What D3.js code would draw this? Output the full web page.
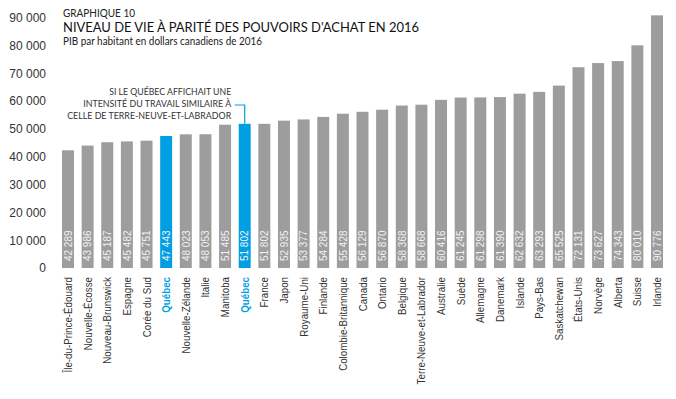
<!DOCTYPE html>
<html>
<head>
<meta charset="utf-8">
<script src="https://cdn.jsdelivr.net/npm/d3@7"></script>
<style>
body { margin: 0; background: #fff; }
</style>
</head>
<body>
<script>
var categories = ["Île-du-Prince-Édouard", "Nouvelle-Écosse", "Nouveau-Brunswick", "Espagne", "Corée du Sud",
    "Québec", "Nouvelle-Zélande", "Italie", "Manitoba", "Québec", "France", "Japon", "Royaume-Uni", "Finlande",
    "Colombie-Britannique", "Canada", "Ontario", "Belgique", "Terre-Neuve-et-Labrador", "Australie", "Suède",
    "Allemagne", "Danemark", "Islande", "Pays-Bas", "Saskatchewan", "États-Unis", "Norvège", "Alberta", "Suisse", "Irlande"];
var values = [42289, 43986, 45187, 45482, 45751, 47443, 48023, 48053, 51485, 51802, 51802, 52935, 53377, 54284,
    55428, 56129, 56870, 58368, 58668, 60416, 61245, 61298, 61390, 62632, 63293, 65525, 72131, 73627, 74343, 80010, 90776];
var highlighted = [5, 9];
var yTicks = [0, 10000, 20000, 30000, 40000, 50000, 60000, 70000, 80000, 90000];
var annotationLines = ["SI LE QUÉBEC AFFICHAIT UNE", "INTENSITÉ DU TRAVAIL SIMILAIRE À", "CELLE DE TERRE-NEUVE-ET-LABRADOR"];

var w = 676;
var h = 399;
var grey = "#9d9d9d";
var blue = "#009fe3";

var svg = d3.select("body")
    .append("svg")
    .attr("width", w)
    .attr("height", h);

var x = d3.scaleBand()
    .domain(d3.range(categories.length))
    .range([62, 663])
    .paddingInner(0.39)
    .paddingOuter(0);

var y = d3.scaleLinear()
    .domain([0, 90000])
    .range([268, 17.5]);

var fmt = function(v) { return d3.format(",")(v).replace(/,/g, " "); };

// y axis, labels only
var yAxis = svg.append("g")
    .attr("transform", "translate(46,0)")
    .call(d3.axisLeft(y).tickValues(yTicks).tickFormat(fmt).tickSize(0).tickPadding(0));
yAxis.select(".domain").remove();
yAxis.selectAll("text")
    .attr("font-family", "Liberation Sans, Arial, sans-serif")
    .attr("font-size", 12)
    .attr("fill", "#333");

// bars
svg.selectAll("rect.bar")
    .data(values)
    .enter()
    .append("rect")
    .attr("class", "bar")
    .attr("x", function(d, i) { return x(i); })
    .attr("y", function(d) { return y(d); })
    .attr("width", x.bandwidth())
    .attr("height", function(d) { return y(0) - y(d); })
    .attr("fill", function(d, i) { return highlighted.indexOf(i) >= 0 ? blue : grey; });

// values inside bars
svg.selectAll("text.val")
    .data(values)
    .enter()
    .append("text")
    .attr("class", "val")
    .attr("transform", function(d, i) {
        return "translate(" + (x(i) + x.bandwidth() / 2 + 3.8) + "," + (y(0) - 7) + ") rotate(-90) scale(0.95,1)";
    })
    .attr("font-family", "Liberation Sans, Arial, sans-serif")
    .attr("font-size", 10.5)
    .attr("fill", "#f2f2f2")
    .text(function(d) { return fmt(d); });

// category labels (condensed)
svg.selectAll("text.cat")
    .data(categories)
    .enter()
    .append("text")
    .attr("class", "cat")
    .attr("transform", function(d, i) {
        return "translate(" + (x(i) + x.bandwidth() / 2 + 4) + "," + (y(0) + 9) + ") rotate(-90) scale(0.85,1)";
    })
    .attr("text-anchor", "end")
    .attr("font-family", "Liberation Sans, Arial, sans-serif")
    .attr("font-size", 11.5)
    .attr("font-weight", function(d, i) { return highlighted.indexOf(i) >= 0 ? "bold" : "normal"; })
    .attr("fill", function(d, i) { return highlighted.indexOf(i) >= 0 ? blue : "#333"; })
    .text(function(d) { return d; });

// titles
svg.append("text")
    .attr("x", 63).attr("y", 17)
    .attr("font-family", "Lato, sans-serif")
    .attr("font-size", 10.5)
    .attr("fill", "#222")
    .attr("textLength", 72)
    .attr("lengthAdjust", "spacingAndGlyphs")
    .text("GRAPHIQUE 10");
svg.append("text")
    .attr("x", 63).attr("y", 32)
    .attr("font-family", "Lato, sans-serif")
    .attr("font-size", 14)
    .attr("fill", "#111")
    .attr("textLength", 356)
    .attr("lengthAdjust", "spacingAndGlyphs")
    .text("NIVEAU DE VIE À PARITÉ DES POUVOIRS D'ACHAT EN 2016");
svg.append("text")
    .attr("x", 63).attr("y", 45)
    .attr("font-family", "Lato, sans-serif")
    .attr("font-size", 10.5)
    .attr("fill", "#222")
    .attr("textLength", 199)
    .attr("lengthAdjust", "spacingAndGlyphs")
    .text("PIB par habitant en dollars canadiens de 2016");

// annotation for the second Québec bar
var ax = x(9) + x.bandwidth() / 2;
var ay = y(values[9]);
var noteWidths = [122, 148, 164];
svg.append("path")
    .attr("d", "M" + (ax - 10) + "," + 105 + "H" + ax + "V" + ay)
    .attr("fill", "none")
    .attr("stroke", blue)
    .attr("stroke-width", 1.2);
svg.selectAll("text.note")
    .data(annotationLines)
    .enter()
    .append("text")
    .attr("class", "note")
    .attr("x", function(d, i) { return ax - 13.5 - noteWidths[i]; })
    .attr("y", function(d, i) { return 95 + i * 12; })
    .attr("font-family", "Lato, sans-serif")
    .attr("font-size", 10)
    .attr("fill", "#333")
    .attr("textLength", function(d, i) { return noteWidths[i]; })
    .attr("lengthAdjust", "spacingAndGlyphs")
    .text(function(d) { return d; });
</script>
</body>
</html>
